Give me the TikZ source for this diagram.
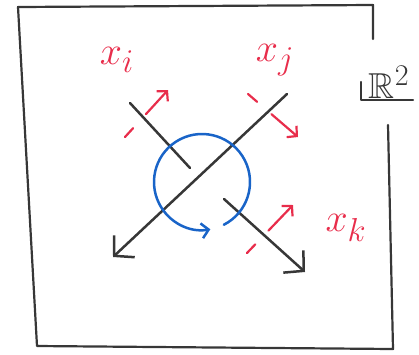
\documentclass[tikz,border=0pt]{standalone}
\usepackage{amssymb}
\usetikzlibrary{arrows.meta}
\definecolor{penred}{RGB}{232,45,75}
\definecolor{penblue}{RGB}{25,100,200}
\definecolor{pengrey}{RGB}{55,55,55}

\begin{document}
\begin{tikzpicture}[x=1pt, y=-1pt, line cap=round, line join=round,
  frame/.style={pengrey, line width=2.2pt},
  axisline/.style={pengrey, line width=2.5pt},
  push/.style={penred, line width=2.2pt, dash pattern=on 12pt off 19pt on 60pt,
    -{Straight Barb[length=7pt,width=15pt]}},
  lab/.style={penred, font=\Huge, scale=1.6}]
\useasboundingbox (0,0) rectangle (419,354);

% the plane
\draw[frame] (373,39) -- (373,5) -- (18,7) -- (37,346) -- (393,349) -- (388,125);
\draw[frame] (361,82) -- (361,100) -- (413,100);
\node[pengrey, font=\Huge, scale=1.45] (plane) at (389,82) {$\mathbb{R}^2$};

% the two lines
\coordinate (itop) at (130,103);
\coordinate (imid) at (190,168);
\coordinate (kmid) at (224,199);
\coordinate (kend) at (305,272);
\coordinate (jtop) at (287,94);
\coordinate (jend) at (113,257);
\draw[axisline] (itop) -- (imid);
\draw[axisline, -{Straight Barb[length=14pt,width=30pt]}] (kmid) -- (kend);
\draw[axisline, -{Straight Barb[length=14pt,width=30pt]}] (jtop) -- (jend);

% turning round the crossing
\coordinate (ring) at (202,182);
\draw[penblue, line width=2.5pt, -{Straight Barb[length=7pt,width=15pt]}]
  (ring) ++(63:48) arc[start angle=63, end angle=-280, radius=48];

% labels and their pushes
\node[lab] (xi) at (117,60) {$x_i$};
\node[lab] (xj) at (275,60) {$x_j$};
\node[lab] (xk) at (346,228) {$x_k$};
\coordinate (pi0) at (125,137);
\coordinate (pi1) at (168,90);
\coordinate (pj0) at (248,94);
\coordinate (pj1) at (298,137);
\coordinate (pk0) at (247,253);
\coordinate (pk1) at (293,205);
\draw[push] (pi0) -- (pi1);
\draw[push] (pj0) -- (pj1);
\draw[push] (pk0) -- (pk1);
\end{tikzpicture}
\end{document}
